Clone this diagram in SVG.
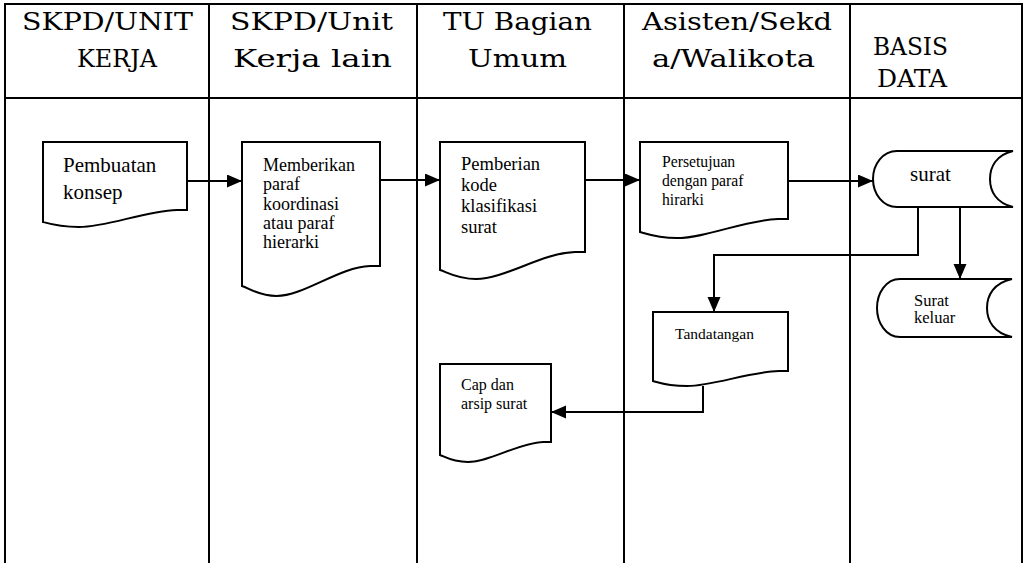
<svg xmlns="http://www.w3.org/2000/svg" width="1027" height="563" viewBox="0 0 1027 563">
<style>
.grid{stroke:#000;stroke-width:2;fill:none}
.hdr{font-family:"DejaVu Serif","Liberation Serif",serif;font-size:25px;fill:#000;text-anchor:middle}
.shape{fill:#fff;stroke:#000;stroke-width:2;stroke-linejoin:miter}
.t{font-family:"Liberation Serif","Times New Roman",serif;fill:#000}
.conn{fill:none;stroke:#000;stroke-width:2}
</style>
<defs>
<marker id="ah" markerUnits="userSpaceOnUse" markerWidth="16" markerHeight="14" refX="15" refY="6.5" orient="auto">
<path d="M0,0 L15,6.5 L0,13 Z" fill="#000"/>
</marker>
</defs>
<rect width="1027" height="563" fill="#fff"/>
<g id="table">
<path class="grid" d="M4,4 H1023 M4,98 H1023 M5,3 V563 M209,3 V563 M417,3 V563 M624,3 V563 M850,3 V563 M1022,3 V563"/>
<text class="hdr" x="107.5" y="30" textLength="171" lengthAdjust="spacingAndGlyphs">SKPD/UNIT</text>
<text class="hdr" x="117" y="67" textLength="80" lengthAdjust="spacingAndGlyphs">KERJA</text>
<text class="hdr" x="311.5" y="30" textLength="163" lengthAdjust="spacingAndGlyphs">SKPD/Unit</text>
<text class="hdr" x="312.5" y="67" textLength="159" lengthAdjust="spacingAndGlyphs">Kerja lain</text>
<text class="hdr" x="517.5" y="30" textLength="149" lengthAdjust="spacingAndGlyphs">TU Bagian</text>
<text class="hdr" x="517.5" y="67" textLength="99" lengthAdjust="spacingAndGlyphs">Umum</text>
<text class="hdr" x="737" y="30" textLength="190" lengthAdjust="spacingAndGlyphs">Asisten/Sekd</text>
<text class="hdr" x="733.5" y="67" textLength="163" lengthAdjust="spacingAndGlyphs">a/Walikota</text>
<text class="hdr" x="910.5" y="55" textLength="75" lengthAdjust="spacingAndGlyphs">BASIS</text>
<text class="hdr" x="912" y="87" textLength="70" lengthAdjust="spacingAndGlyphs">DATA</text>
</g>
<g id="connectors">
<path class="conn" d="M187,181 H242" marker-end="url(#ah)"/>
<path class="conn" d="M380,180 H440" marker-end="url(#ah)"/>
<path class="conn" d="M585,180 H640" marker-end="url(#ah)"/>
<path class="conn" d="M788,181 H873" marker-end="url(#ah)"/>
<path class="conn" d="M918,207 V255 H714 V312" marker-end="url(#ah)"/>
<path class="conn" d="M960,207 V279" marker-end="url(#ah)"/>
<path class="conn" d="M703,386 V412 H551" marker-end="url(#ah)"/>
</g>
<g id="n1">
<path class="shape" d="M43,142 H187 V210 H177 C144,211 108,227 79,227 C60,227 50,224 43,222 Z"/>
<text class="t" font-size="21" x="63" y="172">Pembuatan</text>
<text class="t" font-size="21" x="63" y="199">konsep</text>
</g>
<g id="n2">
<path class="shape" d="M242,142 H380 V266 H370 C339,267 304,296 276.5,296 C258.5,296 249,288 242,286 Z"/>
<text class="t" font-size="18" x="263" y="171">Memberikan</text>
<text class="t" font-size="18" x="263" y="190">paraf</text>
<text class="t" font-size="18" x="263" y="210">koordinasi</text>
<text class="t" font-size="18" x="263" y="229">atau paraf</text>
<text class="t" font-size="18" x="263" y="248">hierarki</text>
</g>
<g id="n3">
<path class="shape" d="M440,142 H585 V252 H575 C541.5,253 505,279 476,279 C457,279 447,272 440,270 Z"/>
<text class="t" font-size="18.5" x="461" y="170">Pemberian</text>
<text class="t" font-size="18.5" x="461" y="191">kode</text>
<text class="t" font-size="18.5" x="461" y="212">klasifikasi</text>
<text class="t" font-size="18.5" x="461" y="233">surat</text>
</g>
<g id="n4">
<path class="shape" d="M640,142 H788 V219 H778 C744,220 707,238 677,238 C658,238 647,234 640,232 Z"/>
<text class="t" font-size="15.7" x="662" y="167">Persetujuan</text>
<text class="t" font-size="15.7" x="662" y="186">dengan paraf</text>
<text class="t" font-size="15.7" x="662" y="205">hirarki</text>
</g>
<g id="n5">
<path class="shape" d="M897,151 H1013 C996,155 990,167 990,179 C990,191 996,203 1013,207 H897 C883,207 873,194 873,179 C873,164 883,151 897,151 Z"/>
<text class="t" font-size="21" x="910" y="181">surat</text>
</g>
<g id="n6">
<path class="shape" d="M900,279 H1012 C994,283 987,295 987,308 C987,321 994,333 1012,337 H900 C886,337 877,323 877,308 C877,293 886,279 900,279 Z"/>
<text class="t" font-size="16.5" x="914" y="306">Surat</text>
<text class="t" font-size="16.5" x="914" y="323">keluar</text>
</g>
<g id="n7">
<path class="shape" d="M653,312 H788 V371 H779 C747.5,372 714,386 687,386 C669,386 660,383 653,381 Z"/>
<text class="t" font-size="15.5" x="675" y="339">Tandatangan</text>
</g>
<g id="n8">
<path class="shape" d="M440,364 H551 V442 H543 C518,443 490,462 468,462 C453,462 445,457 440,455 Z"/>
<text class="t" font-size="16" x="461" y="390">Cap dan</text>
<text class="t" font-size="16" x="461" y="409">arsip surat</text>
</g>
</svg>
